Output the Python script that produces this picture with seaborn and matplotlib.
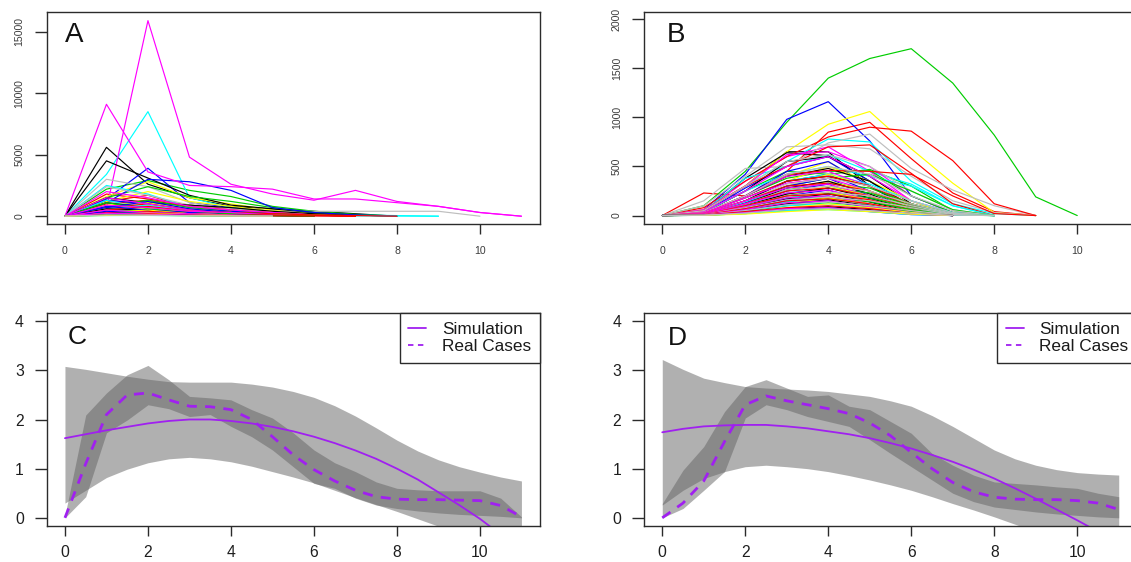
import matplotlib
matplotlib.use("Agg")
import matplotlib.pyplot as plt
from matplotlib.lines import Line2D
import numpy as np
import pandas as pd
import seaborn as sns

# ---------------------------------------------------------------------------
# Panel A: daily new cases of every simulated outbreak (index = day)
# ---------------------------------------------------------------------------
a_runs_large = [
    [0, 5600, 2600, 1500, 800, 600, 400, 200, 0],
    [0, 1800, 1400, 900, 600, 400, 200, 100, 0],
    [0, 2200, 2900, 2100, 1600, 800, 400, 150, 0],
    [0, 1400, 3900, 1100, 700, 400, 200, 0],
    [0, 3400, 8500, 1500, 700, 400, 200, 100, 50, 0],
    [0, 600, 15900, 4800, 2600, 1800, 1300, 2100, 1200, 800, 300, 0],
    [0, 1600, 2800, 1500, 1000, 500, 200, 0],
    [0, 3000, 2400, 1100, 600, 400, 400, 400, 400, 400, 0],
    [0, 4500, 3100, 1700, 900, 600, 300, 100, 0],
    [0, 1200, 1700, 700, 400, 300, 150, 0],
    [0, 1500, 2400, 1600, 1200, 700, 300, 100, 0],
    [0, 1100, 3000, 2800, 2100, 700, 300, 100, 0],
    [0, 2500, 1800, 700, 300, 100, 50, 20, 10, 0],
    [0, 9100, 3600, 2500, 2400, 2200, 1400, 1400, 1100, 800, 300, 0],
    [0, 1200, 2000, 1200, 800, 400, 100, 0],
    [0, 2400, 1700, 900, 500, 300, 150, 0],
]
a_runs_medium = [
    [0, 1500, 1100, 900, 700, 400, 200, 0],
    [0, 1000, 1300, 800, 500, 300, 100, 0],
    [0, 800, 1300, 700, 400, 200, 100, 0],
    [0, 1300, 1000, 600, 400, 200, 0],
    [0, 1300, 600, 300, 150, 50, 0],
    [0, 2000, 1500, 800, 500, 300, 100, 0],
    [0, 900, 1100, 600, 300, 100, 0],
    [0, 1100, 800, 500, 300, 100, 0],
    [0, 1100, 700, 400, 200, 100, 0],
    [0, 700, 1000, 500, 300, 200, 100, 0],
    [0, 1100, 600, 400, 300, 200, 100, 0],
    [0, 700, 1200, 600, 300, 100, 0],
    [0, 600, 900, 400, 200, 100, 0],
    [0, 1500, 1000, 500, 200, 100, 0],
    [0, 500, 700, 400, 200, 100, 0],
    [0, 600, 500, 300, 200, 100, 0],
]
a_runs_small = [
    [0, 600, 500, 300, 150, 50, 0],
    [0, 500, 800, 400, 300, 200, 100, 50, 0],
    [0, 400, 500, 300, 200, 100, 0],
    [0, 800, 500, 300, 100, 0],
    [0, 300, 400, 200, 100, 50, 0],
    [0, 900, 700, 400, 300, 100, 0],
    [0, 300, 500, 200, 100, 0],
    [0, 400, 300, 200, 100, 0],
    [0, 300, 200, 150, 100, 50, 0],
    [0, 300, 400, 200, 100, 100, 50, 0],
    [0, 200, 300, 150, 80, 40, 0],
    [0, 400, 250, 150, 80, 0],
    [0, 150, 200, 100, 50, 0],
    [0, 500, 300, 200, 100, 0],
    [0, 200, 250, 120, 60, 0],
    [0, 200, 150, 100, 50, 0],
    [0, 120, 100, 60, 30, 0],
    [0, 150, 200, 100, 60, 30, 20, 0],
    [0, 100, 80, 50, 20, 0],
    [0, 80, 100, 60, 30, 0],
    [0, 50, 60, 30, 10, 0],
    [0, 250, 150, 80, 40, 0],
    [0, 60, 80, 40, 20, 0],
    [0, 100, 70, 40, 20, 0],
]

# ---------------------------------------------------------------------------
# Panel B: daily new cases of every real outbreak (index = day)
# ---------------------------------------------------------------------------
b_runs_large = [
    [0, 50, 300, 650, 650, 300, 80, 0],
    [0, 230, 200, 450, 850, 950, 580, 230, 40, 0],
    [0, 100, 450, 950, 1400, 1600, 1700, 1350, 820, 190, 0],
    [0, 60, 420, 980, 1160, 760, 200, 30, 0],
    [0, 50, 300, 550, 780, 750, 350, 120, 20, 0],
    [0, 40, 350, 600, 700, 450, 150, 30, 0],
    [0, 60, 300, 650, 930, 1060, 680, 330, 30, 0],
    [0, 150, 480, 500, 740, 830, 480, 260, 100, 0],
    [0, 40, 380, 640, 610, 350, 90, 0],
    [0, 80, 350, 600, 800, 900, 860, 560, 120, 0],
    [0, 30, 250, 450, 420, 470, 300, 50, 0],
    [0, 30, 280, 500, 600, 350, 80, 0],
    [0, 40, 380, 500, 620, 450, 320, 100, 0],
    [0, 60, 300, 620, 650, 500, 200, 30, 0],
    [0, 30, 200, 400, 550, 300, 100, 0],
    [0, 100, 400, 700, 720, 680, 400, 150, 30, 0],
]
b_runs_medium = [
    [0, 30, 250, 550, 600, 400, 120, 0],
    [0, 50, 300, 500, 700, 720, 430, 120, 0],
    [0, 20, 200, 380, 450, 460, 200, 30, 0],
    [0, 20, 200, 450, 550, 300, 60, 0],
    [0, 30, 250, 420, 500, 400, 300, 100, 0],
    [0, 40, 250, 500, 600, 400, 150, 0],
    [0, 20, 150, 350, 500, 350, 150, 0],
    [0, 50, 300, 550, 620, 500, 250, 60, 0],
    [0, 20, 200, 400, 480, 350, 100, 0],
    [0, 30, 200, 420, 460, 450, 420, 200, 20, 0],
    [0, 15, 150, 300, 380, 420, 250, 60, 0],
    [0, 20, 150, 350, 420, 250, 50, 0],
    [0, 20, 180, 350, 420, 320, 150, 30, 0],
    [0, 30, 200, 400, 450, 300, 100, 0],
    [0, 15, 120, 300, 420, 300, 100, 0],
    [0, 30, 200, 420, 500, 420, 200, 50, 0],
    [0, 15, 150, 350, 400, 300, 80, 0],
    [0, 25, 180, 350, 400, 300, 120, 0],
    [0, 10, 120, 260, 330, 280, 120, 20, 0],
    [0, 15, 130, 300, 380, 200, 40, 0],
    [0, 15, 140, 280, 330, 250, 100, 20, 0],
    [0, 25, 180, 330, 380, 250, 80, 0],
    [0, 10, 100, 250, 350, 250, 80, 0],
    [0, 20, 150, 320, 380, 300, 150, 30, 0],
]
b_runs_small = [
    [0, 10, 120, 280, 350, 220, 60, 0],
    [0, 20, 150, 300, 330, 250, 100, 0],
    [0, 10, 100, 220, 280, 230, 100, 10, 0],
    [0, 10, 110, 250, 320, 170, 30, 0],
    [0, 10, 110, 230, 280, 200, 80, 10, 0],
    [0, 20, 150, 280, 320, 200, 60, 0],
    [0, 10, 80, 200, 300, 200, 60, 0],
    [0, 15, 120, 260, 300, 250, 120, 20, 0],
    [0, 10, 100, 220, 280, 180, 50, 0],
    [0, 15, 120, 250, 280, 200, 80, 0],
    [0, 5, 80, 180, 230, 180, 80, 10, 0],
    [0, 10, 90, 200, 260, 140, 25, 0],
    [0, 10, 90, 180, 220, 160, 60, 10, 0],
    [0, 15, 120, 230, 260, 160, 50, 0],
    [0, 5, 60, 160, 240, 160, 50, 0],
    [0, 10, 100, 200, 240, 200, 100, 15, 0],
    [0, 5, 80, 170, 220, 140, 40, 0],
    [0, 10, 100, 200, 220, 160, 60, 0],
    [0, 5, 60, 140, 180, 140, 60, 5, 0],
    [0, 5, 70, 160, 200, 110, 20, 0],
    [0, 5, 70, 140, 170, 120, 40, 5, 0],
    [0, 10, 90, 180, 200, 120, 40, 0],
    [0, 5, 50, 120, 180, 120, 40, 0],
    [0, 8, 80, 160, 190, 150, 80, 10, 0],
    [0, 5, 60, 120, 160, 100, 30, 0],
    [0, 8, 70, 150, 170, 120, 40, 0],
    [0, 3, 40, 100, 130, 100, 40, 0],
    [0, 4, 50, 110, 150, 80, 15, 0],
    [0, 3, 50, 100, 120, 80, 30, 0],
    [0, 6, 60, 130, 150, 90, 30, 0],
    [0, 3, 30, 80, 120, 80, 30, 0],
    [0, 5, 50, 110, 140, 100, 50, 5, 0],
    [0, 3, 30, 70, 90, 60, 20, 0],
    [0, 5, 40, 80, 100, 70, 20, 0],
    [0, 2, 20, 50, 70, 50, 20, 0],
    [0, 2, 25, 60, 80, 40, 10, 0],
    [0, 2, 20, 50, 60, 40, 10, 0],
    [0, 3, 30, 70, 80, 50, 15, 0],
    [0, 2, 15, 40, 60, 40, 15, 0],
    [0, 3, 25, 60, 70, 50, 25, 0],
]

# ---------------------------------------------------------------------------
# Panels C and D: smoothed curves on a 0.5-day grid
# ---------------------------------------------------------------------------
half_days = [i * 0.5 for i in range(23)]  # 0 .. 11

c_sim_upper = [3.08, 3.02, 2.95, 2.88, 2.82, 2.77, 2.76, 2.76, 2.76, 2.72, 2.66, 2.57,
               2.45, 2.28, 2.07, 1.83, 1.58, 1.36, 1.18, 1.04, 0.93, 0.83, 0.75]
c_sim_lower = [0.30, 0.56, 0.82, 0.99, 1.12, 1.20, 1.23, 1.20, 1.14, 1.05, 0.94, 0.83,
               0.71, 0.56, 0.41, 0.27, 0.13, -0.02, -0.17, -0.32, -0.46, -0.60, -0.72]
c_sim_mean = [1.62, 1.70, 1.78, 1.85, 1.92, 1.97, 2.00, 2.00, 1.97, 1.92, 1.85, 1.76,
              1.65, 1.52, 1.37, 1.20, 1.00, 0.78, 0.52, 0.26, -0.02, -0.34]
c_real_upper = [0.05, 2.09, 2.54, 2.91, 3.10, 2.81, 2.47, 2.44, 2.40, 2.20, 2.03, 1.73,
                1.38, 1.12, 0.94, 0.73, 0.60, 0.57, 0.55, 0.55, 0.55, 0.40, 0.02]
c_real_lower = [0.00, 0.43, 1.73, 1.99, 2.30, 2.22, 2.06, 2.10, 1.86, 1.65, 1.38, 1.04,
                0.70, 0.60, 0.40, 0.26, 0.19, 0.14, 0.10, 0.07, 0.05, 0.03, 0.00]
c_real_mean = [0.00, 1.10, 2.10, 2.50, 2.54, 2.40, 2.27, 2.26, 2.20, 2.00, 1.65, 1.28,
               0.98, 0.75, 0.56, 0.43, 0.38, 0.37, 0.37, 0.36, 0.35, 0.25, 0.02]

d_sim_upper = [3.22, 3.02, 2.84, 2.75, 2.67, 2.64, 2.62, 2.60, 2.57, 2.52, 2.47, 2.38,
               2.27, 2.08, 1.86, 1.62, 1.38, 1.20, 1.07, 0.98, 0.92, 0.89, 0.87]
d_sim_lower = [0.26, 0.56, 0.80, 0.94, 1.04, 1.07, 1.04, 1.00, 0.94, 0.86, 0.77, 0.67,
               0.56, 0.43, 0.29, 0.16, 0.02, -0.13, -0.28, -0.43, -0.58, -0.72, -0.86]
d_sim_mean = [1.74, 1.81, 1.86, 1.88, 1.89, 1.89, 1.86, 1.82, 1.76, 1.70, 1.62, 1.52,
              1.41, 1.28, 1.14, 0.98, 0.80, 0.60, 0.39, 0.17, -0.05, -0.28]
d_real_upper = [0.29, 0.97, 1.45, 2.16, 2.67, 2.81, 2.64, 2.47, 2.50, 2.27, 2.20, 1.96,
                1.72, 1.31, 1.07, 0.87, 0.73, 0.70, 0.67, 0.63, 0.60, 0.50, 0.43]
d_real_lower = [0.00, 0.19, 0.56, 0.94, 2.03, 2.30, 2.20, 2.06, 1.96, 1.86, 1.59, 1.31,
                1.04, 0.77, 0.50, 0.33, 0.22, 0.17, 0.12, 0.08, 0.05, 0.02, 0.00]
d_real_mean = [0.00, 0.30, 0.75, 1.55, 2.30, 2.48, 2.38, 2.30, 2.22, 2.12, 1.93, 1.67,
               1.33, 1.00, 0.72, 0.53, 0.42, 0.38, 0.37, 0.37, 0.35, 0.30, 0.17]

panel_letters = ["A", "B", "C", "D"]
legend_labels = ["Simulation", "Real Cases"]

# ---------------------------------------------------------------------------
# Styling
# ---------------------------------------------------------------------------
sns.set_style("white")
plt.rcParams["font.family"] = ["Liberation Sans", "DejaVu Sans"]

R_PALETTE = ["#000000", "#FF0000", "#00CD00", "#0000FF",
             "#00FFFF", "#FF00FF", "#FFFF00", "#BEBEBE"]
PURPLE = "#A020F0"
BAND = (0.39, 0.39, 0.39)
FRAME = "#2b2b2b"

fig = plt.figure(figsize=(11.31, 5.62), dpi=100)
W, H = 1131.0, 562.0


def add_axes(left_px, top_px, width_px, height_px):
    return fig.add_axes([left_px / W, 1 - (top_px + height_px) / H,
                         width_px / W, height_px / H])


ax_a = add_axes(46.7, 11.7, 493, 211.8)
ax_b = add_axes(644, 11.7, 493, 211.8)
ax_c = add_axes(46.7, 313.3, 493, 212.4)
ax_d = add_axes(644, 313.3, 493, 212.4)


def runs_frame(runs):
    rows = []
    for k, run in enumerate(runs):
        for day, cases in enumerate(run):
            rows.append((f"run{k:03d}", day, cases))
    return pd.DataFrame(rows, columns=["run", "day", "cases"])


def spaghetti(ax, runs):
    df = runs_frame(runs)
    order = list(dict.fromkeys(df["run"]))
    colors = [R_PALETTE[k % len(R_PALETTE)] for k in range(len(order))]
    sns.lineplot(data=df, x="day", y="cases", hue="run", hue_order=order,
                 palette=colors, estimator=None, sort=False, legend=False,
                 linewidth=0.85, ax=ax)


def frame_axes(ax, ylim, yticks, small):
    ax.set_xlim(-0.44, 11.44)
    ax.set_ylim(*ylim)
    ax.set_xticks([0, 2, 4, 6, 8, 10])
    ax.set_yticks(yticks)
    ax.set_xlabel("")
    ax.set_ylabel("")
    for sp in ax.spines.values():
        sp.set_visible(True)
        sp.set_color(FRAME)
        sp.set_linewidth(1.0)
    if small:
        lab_size, lab_color = 7.6, "#3c3c3c"
        ax.tick_params(axis="y", labelrotation=90)
        for t in ax.get_yticklabels():
            t.set_va("center")
        xpad, ypad = 9.0, 7.5
    else:
        lab_size, lab_color = 11.3, "#1e1e1e"
        xpad, ypad = 7, 8
    ax.tick_params(axis="x", bottom=True, top=False, direction="out", length=7,
                   width=1.0, color=FRAME, labelsize=lab_size, labelcolor=lab_color,
                   pad=xpad)
    ax.tick_params(axis="y", left=True, right=False, direction="out", length=8.4,
                   width=1.0, color=FRAME, labelsize=lab_size, labelcolor=lab_color,
                   pad=ypad)


# Panel A
spaghetti(ax_a, a_runs_large + a_runs_medium + a_runs_small)
frame_axes(ax_a, (-594, 16627), [0, 5000, 10000, 15000], small=True)
ax_a.set_yticklabels(["0", "5000", "10000", "15000"])

# Panel B
spaghetti(ax_b, b_runs_large + b_runs_medium + b_runs_small)
frame_axes(ax_b, (-81, 2077), [0, 500, 1000, 1500, 2000], small=True)
ax_b.set_yticklabels(["0", "500", "1000", "1500", "2000"])


def fit_panel(ax, sim_lo, sim_hi, sim_mean, real_lo, real_hi, real_mean):
    ax.fill_between(half_days, sim_lo, sim_hi, color=BAND, alpha=0.5, lw=0)
    ax.fill_between(half_days, real_lo, real_hi, color=BAND, alpha=0.5, lw=0)
    sim_df = pd.DataFrame({"day": half_days[:len(sim_mean)], "value": sim_mean})
    real_df = pd.DataFrame({"day": half_days, "value": real_mean})
    sns.lineplot(data=sim_df, x="day", y="value", color=PURPLE, linewidth=1.3,
                 estimator=None, ax=ax)
    sns.lineplot(data=real_df, x="day", y="value", color=PURPLE, linewidth=2.0,
                 linestyle=(0, (3.6, 3.0)), estimator=None, ax=ax)
    frame_axes(ax, (-0.16, 4.16), [0, 1, 2, 3, 4], small=False)
    handles = [Line2D([], [], color=PURPLE, lw=1.3),
               Line2D([], [], color=PURPLE, lw=1.3, linestyle=(0, (3.0, 2.5)))]
    leg = ax.legend(handles, legend_labels, loc="upper right", borderaxespad=0,
                    frameon=True, fancybox=False, fontsize=12.4,
                    handlelength=1.05, handletextpad=0.9, borderpad=0.5,
                    labelspacing=0.12)
    leg.get_frame().set_edgecolor(FRAME)
    leg.get_frame().set_linewidth(1.0)
    leg.get_frame().set_alpha(1)
    for t in leg.get_texts():
        t.set_color("#1a1a1a")


fit_panel(ax_c, c_sim_lower, c_sim_upper, c_sim_mean,
          c_real_lower, c_real_upper, c_real_mean)
fit_panel(ax_d, d_sim_lower, d_sim_upper, d_sim_mean,
          d_real_lower, d_real_upper, d_real_mean)

# Panel letters
for ax, letter, (fx, fy), size in zip(
        [ax_a, ax_b, ax_c, ax_d], panel_letters,
        [(0.037, 0.89), (0.047, 0.89), (0.043, 0.888), (0.049, 0.884)],
        [20, 20, 19, 19]):
    ax.text(fx, fy, letter, transform=ax.transAxes, ha="left", va="center",
            fontsize=size, color="#111111")

fig.savefig("out.png", dpi=100)
